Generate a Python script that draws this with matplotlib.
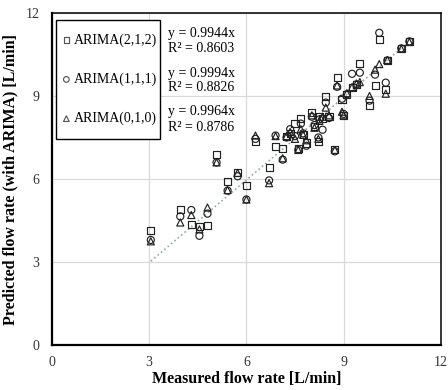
import matplotlib
matplotlib.use('Agg')
import matplotlib.pyplot as plt
from matplotlib.patches import Rectangle
import numpy as np

plt.rcParams['font.family'] = ['Liberation Serif', 'DejaVu Serif']

# measured flow rate [L/min]
measured = [3.05, 3.96, 4.30, 4.55, 4.80, 5.08, 5.42, 5.73, 6.00, 6.28,
            6.70, 6.90, 7.12, 7.24, 7.35, 7.50, 7.60, 7.68, 7.75, 7.85,
            8.02, 8.10, 8.22, 8.25, 8.35, 8.45, 8.55, 8.73, 8.80, 8.95,
            9.00, 9.10, 9.26, 9.40, 9.50, 9.80, 9.97, 10.10, 10.30, 10.35,
            10.78, 11.03]
# predicted values for each model
arima_212 = [4.15, 4.90, 4.36, 4.30, 4.32, 6.90, 5.92, 6.22, 5.77, 7.35,
             6.42, 7.17, 7.10, 7.53, 7.65, 8.00, 7.10, 8.20, 7.60, 7.30,
             8.40, 7.90, 7.35, 8.25, 8.20, 8.97, 8.25, 7.06, 9.65, 8.86,
             8.30, 9.04, 9.30, 9.40, 10.16, 8.65, 9.37, 11.03, 9.22, 10.28,
             10.70, 10.95]
arima_111 = [3.80, 4.65, 4.88, 3.95, 4.75, 6.60, 5.58, 6.10, 5.26, 7.45,
             5.95, 7.57, 6.70, 7.50, 7.80, 7.55, 7.05, 8.00, 7.65, 7.20,
             8.25, 7.95, 7.50, 8.15, 7.78, 8.76, 8.20, 7.00, 9.33, 8.90,
             8.35, 9.06, 9.80, 9.42, 9.84, 8.83, 9.77, 11.28, 9.48, 10.28,
             10.72, 10.97]
arima_010 = [3.75, 4.43, 4.70, 4.18, 4.97, 6.60, 5.60, 6.22, 5.26, 7.57,
             5.85, 7.55, 6.75, 7.55, 7.70, 7.45, 7.05, 7.80, 7.60, 7.40,
             8.30, 7.85, 7.45, 8.10, 8.25, 8.58, 8.30, 7.05, 9.38, 8.43,
             8.30, 9.10, 9.32, 9.45, 9.50, 9.00, 9.95, 10.15, 9.08, 10.30,
             10.70, 10.95]

labels = ['ARIMA(2,1,2)', 'ARIMA(1,1,1)', 'ARIMA(0,1,0)']
markers = ['s', 'o', '^']
slopes = [0.9944, 0.9994, 0.9964]
r2 = [0.8603, 0.8826, 0.8786]

fig = plt.figure(figsize=(4.48, 3.9), dpi=100)
ax = fig.add_axes([0.116, 0.115, 0.868, 0.852])

series = [arima_212, arima_111, arima_010]
for ys, lab, mk in zip(series, labels, markers):
    ax.scatter(measured, ys, marker=mk, s=26, facecolors='none',
               edgecolors='#222222', linewidths=0.85, label=lab, zorder=3)

# linear trend through origin
xt = np.array([min(measured), max(measured)])
ax.plot(xt, slopes[0] * xt, linestyle=':', color='#8aaea6', linewidth=1.2, zorder=2)

ax.set_xlim(0, 12)
ax.set_ylim(0, 12)
ax.set_xticks([0, 3, 6, 9, 12])
ax.set_yticks([0, 3, 6, 9, 12])
ax.grid(True, color='#d9d9d9', linewidth=0.9)
ax.set_axisbelow(True)
ax.tick_params(length=0, labelsize=10, labelcolor='#333333')
ax.tick_params(axis='x', pad=8)
ax.tick_params(axis='y', pad=9)
for side in ['left', 'bottom']:
    ax.spines[side].set_linewidth(1.6)
for side in ['top', 'right']:
    ax.spines[side].set_linewidth(1.1)

ax.set_xlabel('Measured flow rate [L/min]', fontsize=11.5, fontweight='bold', labelpad=1)
ax.set_ylabel('Predicted flow rate (with ARIMA) [L/min]', fontsize=11.5,
              fontweight='bold', labelpad=5)

# legend box drawn by hand, entries without frame
ax.add_patch(Rectangle((0.010, 0.620), 0.268, 0.359, transform=ax.transAxes,
                       facecolor='white', edgecolor='black', linewidth=1.0, zorder=4))
leg = ax.legend(loc='upper left', bbox_to_anchor=(0.012, 0.946), fontsize=10,
                frameon=False, labelspacing=1.85, handletextpad=0.05,
                handlelength=1.0, borderpad=0.2, borderaxespad=0,
                markerscale=0.8)
leg.set_zorder(5)
for h in leg.legend_handles:
    h.set_edgecolor('#555555')

# equations next to the legend
ypos = [[0.938, 0.893], [0.818, 0.775], [0.702, 0.655]]
for k in range(3):
    ax.text(0.298, ypos[k][0], 'y = %.4fx' % slopes[k], transform=ax.transAxes,
            fontsize=10, va='center', ha='left')
    ax.text(0.298, ypos[k][1], 'R² = %.4f' % r2[k], transform=ax.transAxes,
            fontsize=10, va='center', ha='left')

fig.savefig('out.png', dpi=100)
